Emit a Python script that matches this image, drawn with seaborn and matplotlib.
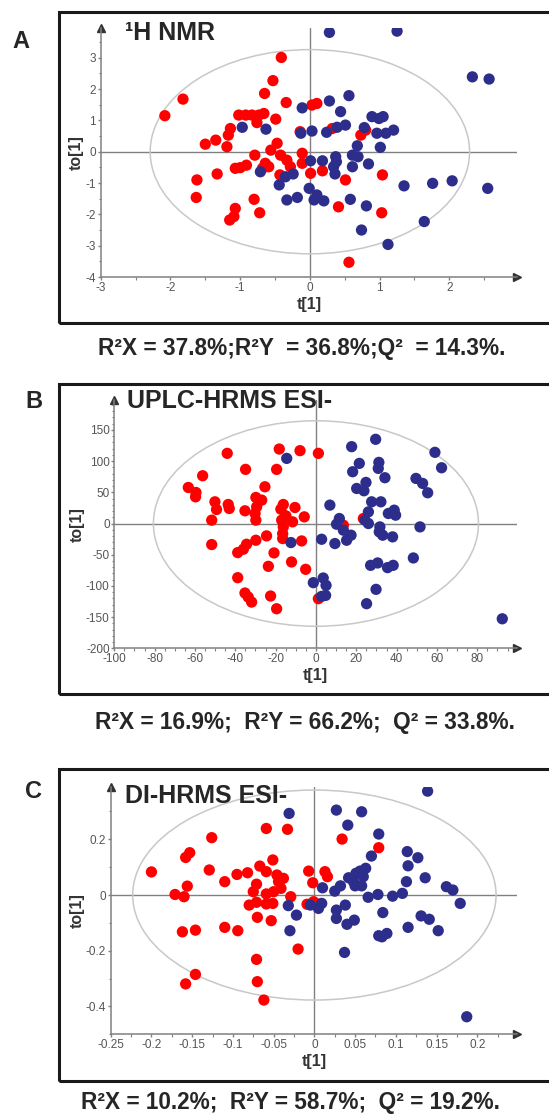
import matplotlib
matplotlib.use("Agg")
import matplotlib.pyplot as plt
from matplotlib.patches import Ellipse, Rectangle
from matplotlib.ticker import MultipleLocator, FuncFormatter
import seaborn as sns
import pandas as pd

# =========================
# DATA
# =========================
a_red_x = [-2.08, -1.82, -0.41, -0.53, -0.65, -0.34, -0.49, -1.02, -0.92, -0.83, -0.73, -0.66, -0.76, -1.14,
           -1.17, -1.35, -1.50, -1.19, -0.47, -0.56, -0.79, -0.42, -0.33, -0.28, -0.64, -0.59, -0.68, -0.91,
           -1.07, -1.00, -1.33, -1.62, -1.63, -0.80, -1.07, -1.09, -1.15, -0.72, -0.43, -0.11, -0.11, 0.01,
           0.18, -0.14, 0.03, 0.10, 0.32, 0.51, 0.41, 0.56, 1.03, 1.04, 0.73, 0.80]
a_red_y = [1.15, 1.68, 3.01, 2.27, 1.86, 1.57, 1.04, 1.17, 1.17, 1.17, 1.17, 1.22, 0.93, 0.74,
           0.53, 0.37, 0.24, 0.16, 0.27, 0.05, -0.11, -0.11, -0.27, -0.48, -0.37, -0.48, -0.53, -0.43,
           -0.53, -0.51, -0.71, -0.90, -1.46, -1.52, -1.81, -2.07, -2.18, -1.95, -0.74, -0.05, -0.37, -0.69,
           -0.61, 0.64, 1.49, 1.54, 0.74, -0.90, -1.76, -3.53, -1.95, -0.74, 0.53, 0.69]
a_blue_x = [0.28, 1.25, 2.33, 2.57, 0.56, 0.28, -0.11, 0.44, -0.97, -0.63, -0.13, 0.03, 0.24, 0.39, 0.51,
            0.78, 0.89, 0.99, 1.05, 0.96, 1.09, 1.20, 1.01, 0.68, 0.61, 0.69, 0.37, 0.38, 0.61, 0.84, 0.01,
            0.18, 0.34, 0.36, -0.71, -0.35, -0.24, -0.44, -0.01, 0.10, 0.06, 0.20, -0.33, -0.18, 0.58, 0.81,
            1.35, 1.76, 2.04, 2.55, 1.64, 0.74, 1.12]
a_blue_y = [3.81, 3.85, 2.39, 2.32, 1.79, 1.62, 1.40, 1.28, 0.78, 0.72, 0.59, 0.66, 0.62, 0.78, 0.85,
            0.77, 1.12, 1.06, 1.12, 0.59, 0.59, 0.69, 0.14, 0.19, -0.11, -0.16, -0.16, -0.32, -0.48, -0.39, -0.29,
            -0.29, -0.48, -0.71, -0.64, -0.80, -0.71, -1.06, -1.17, -1.38, -1.54, -1.57, -1.54, -1.46, -1.52, -1.73,
            -1.09, -1.01, -0.93, -1.17, -2.23, -2.50, -2.96]

b_red_x = [-63.3, -59.5, -59.7, -56.2, -44.0, -34.9, -18.2, -19.5, -7.9, 1.2, -25.3, -50.1, -49.3, -51.7,
           -51.7, -43.5, -43.0, -35.2, -29.8, -26.9, -29.4, -30.2, -29.8, -24.5, -29.8, -34.4, -36.0, -38.8,
           -16.2, -17.4, -10.4, -14.9, -17.0, -16.2, -16.5, -16.5, -5.8, -11.6, -7.1, -20.8, -23.6, -12.1,
           -5.1, -38.8, -35.2, -33.6, -31.9, -22.5, -19.5, 1.2, 23.5, 13.6]
b_red_y = [57.8, 49.8, 42.8, 76.6, 112.5, 86.8, 119.4, 86.8, 116.8, 112.5, 58.9, 34.8, 22.5, 5.4,
           -33.7, 30.5, 24.1, 20.4, 41.8, 37.5, 26.8, 16.1, 5.4, -19.8, -26.8, -33.2, -41.2, -46.6,
           30.5, 23.0, 25.7, 12.3, 5.4, -5.4, -16.1, -24.1, 10.7, 2.7, -27.9, -47.1, -68.6, -61.6,
           -73.4, -86.8, -111.4, -117.8, -125.9, -116.2, -136.6, -120.5, 8.0, -2.7]
b_blue_x = [-14.5, 17.7, 29.6, 21.5, 18.2, 31.2, 30.9, 34.2, 24.8, 20.2, 23.8, 59.0, 62.3, 49.6, 52.9,
            55.4, 6.9, 11.6, 10.2, 13.6, 17.4, 15.2, 9.4, 2.8, 24.3, 26.0, 27.6, 32.2, 26.0, 35.9, 38.8,
            39.5, 31.7, 31.4, 33.1, 38.0, 51.6, 48.3, 27.1, 30.6, 35.5, 38.3, 29.8, 25.1, -12.4, -1.3,
            3.6, 5.0, 2.8, 4.8, 92.4]
b_blue_y = [104.4, 123.2, 135.0, 96.4, 83.0, 98.0, 88.4, 73.4, 65.9, 56.2, 52.5, 114.1, 89.4, 72.3, 64.3,
            49.3, 29.5, 8.0, -1.1, -10.7, -18.7, -26.8, -32.1, -25.2, 5.4, 0.0, 34.8, 34.8, 18.7, 16.1, 21.4,
            13.4, -5.4, -13.4, -18.7, -21.4, -5.4, -55.2, -67.0, -63.2, -70.7, -67.0, -105.5, -128.5, -30.5, -94.8,
            -87.3, -99.1, -116.8, -115.2, -152.7]

c_red_x = [-0.200, -0.171, -0.160, -0.156, -0.158, -0.153, -0.126, -0.129, -0.110, -0.095, -0.082, -0.059,
           -0.033, -0.067, -0.051, -0.059, -0.046, -0.038, -0.044, -0.071, -0.075, -0.059, -0.050, -0.041,
           -0.029, -0.080, -0.071, -0.059, -0.051, -0.070, -0.053, -0.007, -0.002, 0.013, 0.016, -0.009,
           0.006, -0.001, 0.034, 0.079, -0.162, -0.146, -0.110, -0.094, -0.020, -0.071, -0.070, -0.158,
           -0.146, -0.062]
c_red_y = [0.083, 0.002, -0.006, 0.032, 0.135, 0.152, 0.206, 0.090, 0.048, 0.074, 0.080, 0.239,
           0.236, 0.104, 0.126, 0.084, 0.072, 0.060, 0.048, 0.039, 0.012, 0.004, 0.012, 0.024,
           -0.006, -0.036, -0.026, -0.032, -0.030, -0.080, -0.092, 0.086, 0.044, 0.084, 0.066, -0.033,
           -0.033, -0.024, 0.201, 0.170, -0.132, -0.126, -0.116, -0.128, -0.194, -0.231, -0.311, -0.319,
           -0.285, -0.377]
c_blue_x = [0.139, -0.031, 0.027, 0.058, 0.041, 0.079, 0.070, 0.114, 0.127, 0.115, 0.063, 0.056, 0.051,
            0.042, 0.060, 0.048, 0.058, 0.050, 0.032, 0.025, 0.010, 0.136, 0.113, 0.162, 0.170, 0.179,
            0.066, 0.078, 0.096, 0.108, -0.032, -0.022, -0.030, -0.005, 0.005, 0.009, 0.027, 0.038, 0.027,
            0.040, 0.049, 0.084, 0.115, 0.131, 0.141, 0.152, 0.079, 0.083, 0.089, 0.037, 0.187]
c_blue_y = [0.373, 0.293, 0.305, 0.299, 0.251, 0.219, 0.140, 0.156, 0.134, 0.105, 0.096, 0.086, 0.078,
            0.062, 0.066, 0.048, 0.033, 0.033, 0.033, 0.014, 0.026, 0.062, 0.048, 0.030, 0.018, -0.030,
            -0.008, 0.002, -0.004, 0.006, -0.038, -0.072, -0.128, -0.036, -0.048, -0.030, -0.054, -0.036, -0.084,
            -0.105, -0.090, -0.063, -0.116, -0.075, -0.087, -0.128, -0.146, -0.150, -0.138, -0.206, -0.437]

titles = ["\u00b9H NMR", "UPLC-HRMS ESI-", "DI-HRMS ESI-"]
letters = ["A", "B", "C"]
captions = ["R\u00b2X = 37.8%;R\u00b2Y  = 36.8%;Q\u00b2  = 14.3%.",
            "R\u00b2X = 16.9%;  R\u00b2Y = 66.2%;  Q\u00b2 = 33.8%.",
            "R\u00b2X = 10.2%;  R\u00b2Y = 58.7%;  Q\u00b2 = 19.2%."]
ellipse_axes = [(2.29, 3.26), (80.6, 164.7), (0.223, 0.377)]

# =========================
# LAYOUT (pixels of the 549x1115 image)
# =========================
W, H = 549, 1115
panels = [
    dict(frame=(11.7, 323), ax=(100.7, 517, 28, 277), xlim=(-3, 2.97), ylim=(-4, 3.95),
         xmaj=1, xmin=0.5, ymaj=1, ymin=0.5, letter=(21, 41), title=(125, 33), cap=(302, 349)),
    dict(frame=(384, 694), ax=(114.3, 517, 400, 648.3), xlim=(-100, 99.7), ylim=(-200, 198),
         xmaj=20, xmin=5, ymaj=50, ymin=10, letter=(34, 402), title=(127, 401), cap=(305, 723)),
    dict(frame=(769, 1081), ax=(110.7, 517, 786.7, 1034.3), xlim=(-0.25, 0.2487), ylim=(-0.5, 0.389),
         xmaj=0.05, xmin=0.025, ymaj=0.2, ymin=0.1, letter=(34, 792), title=(125, 796), cap=(290, 1103)),
]

sns.set_style("white")
plt.rcParams['font.family'] = ['Liberation Sans', 'DejaVu Sans']
plt.rcParams['axes.unicode_minus'] = False

RED = "#ff0000"
BLUE = "#2d2e8c"
GREY = "#808080"

fig = plt.figure(figsize=(W / 100, H / 100), dpi=100)

data = [(a_red_x, a_red_y, a_blue_x, a_blue_y),
        (b_red_x, b_red_y, b_blue_x, b_blue_y),
        (c_red_x, c_red_y, c_blue_x, c_blue_y)]

fmt = FuncFormatter(lambda v, p: ("%g" % round(v, 4)))

for i, p in enumerate(panels):
    rx, ry, bx, by = data[i]
    df = pd.DataFrame({
        "t": rx + bx,
        "to": ry + by,
        "group": ["red"] * len(rx) + ["blue"] * len(bx),
    })

    # frame around the panel
    ft, fb = p["frame"]
    fig.patches.append(Rectangle((58.7 / W, 1 - fb / H), 1.0, (fb - ft) / H, fill=False,
                                 edgecolor="#1a1a1a", linewidth=2.2, transform=fig.transFigure))

    l, r, t, b = p["ax"]
    ax = fig.add_axes([l / W, 1 - b / H, (r - l) / W, (b - t) / H])
    ax.set_facecolor("none")

    ax.axhline(0, color=GREY, lw=1, zorder=1)
    ax.axvline(0, color=GREY, lw=1, zorder=1)
    ea, eb = ellipse_axes[i]
    ax.add_patch(Ellipse((0, 0), 2 * ea, 2 * eb, fill=False, edgecolor="#c8c8c8", lw=1.1, zorder=1))

    sns.scatterplot(data=df, x="t", y="to", hue="group", palette={"red": RED, "blue": BLUE},
                    s=66, edgecolor="none", linewidth=0, legend=False, ax=ax, zorder=3)

    ax.set_xlim(*p["xlim"])
    ax.set_ylim(*p["ylim"])
    ax.xaxis.set_major_locator(MultipleLocator(p["xmaj"]))
    ax.xaxis.set_minor_locator(MultipleLocator(p["xmin"]))
    ax.yaxis.set_major_locator(MultipleLocator(p["ymaj"]))
    ax.yaxis.set_minor_locator(MultipleLocator(p["ymin"]))
    ax.xaxis.set_major_formatter(fmt)
    ax.yaxis.set_major_formatter(fmt)

    for side in ["top", "right"]:
        ax.spines[side].set_visible(False)
    for side in ["left", "bottom"]:
        ax.spines[side].set_color(GREY)
        ax.spines[side].set_linewidth(1.1)
    ax.tick_params(which="major", direction="out", length=2.5, width=1, color=GREY,
                   labelsize=8.5, labelcolor="#555555", pad=0.8, left=True, bottom=True)
    ax.tick_params(which="minor", direction="out", length=1.8, width=0.8, color=GREY, left=True, bottom=True)

    # arrow heads on the axes
    ax.plot(1, 0, marker=">", ms=6, color="#333333", transform=ax.transAxes, clip_on=False)
    ax.plot(0, 1, marker="^", ms=6, color="#333333", transform=ax.transAxes, clip_on=False)

    ax.set_xlabel("t[1]", fontsize=11.5, fontweight="bold", color="#333333", labelpad=2.5)
    ax.set_ylabel("to[1]", fontsize=11.5, fontweight="bold", color="#333333", labelpad=1)

    lx, ly = p["letter"]
    fig.text(lx / W, 1 - ly / H, letters[i], fontsize=17, fontweight="bold", ha="center", va="center")
    tx, ty = p["title"]
    fig.text(tx / W, 1 - ty / H, titles[i], fontsize=18, fontweight="bold", ha="left", va="center")
    cx, cy = p["cap"]
    fig.text(cx / W, 1 - cy / H, captions[i], fontsize=16.3, fontweight="bold", ha="center", va="center")

fig.savefig("out.png", dpi=100)
